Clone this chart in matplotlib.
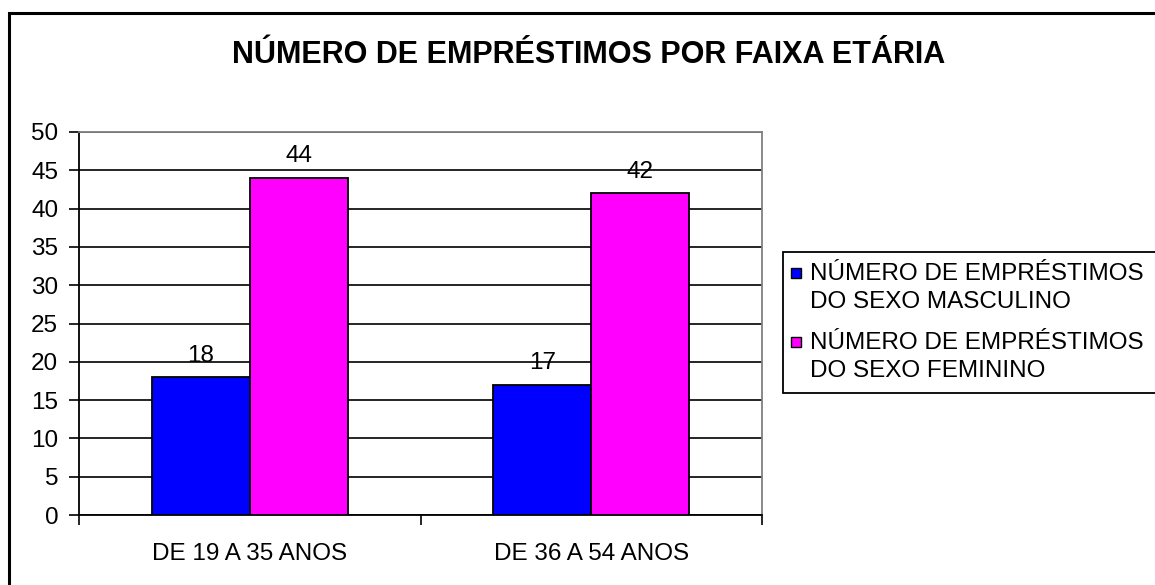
import matplotlib
matplotlib.use("Agg")
import matplotlib.pyplot as plt
from matplotlib.patches import Rectangle
import numpy as np

plt.rcParams['font.family'] = ['Liberation Sans', 'DejaVu Sans']

categories = ["DE 19 A 35 ANOS", "DE 36 A 54 ANOS"]
masculino = [18, 17]
feminino = [44, 42]
series_labels = ["NÚMERO DE EMPRÉSTIMOS\nDO SEXO MASCULINO",
                 "NÚMERO DE EMPRÉSTIMOS\nDO SEXO FEMININO"]
title = "NÚMERO DE EMPRÉSTIMOS POR FAIXA ETÁRIA"
colors = ["#0000FF", "#FF00FF"]

W, H = 1155, 585
FS = 17.5
fig = plt.figure(figsize=(W / 100, H / 100), dpi=100)
fig.patch.set_facecolor("white")

# outer frame (extends beyond the image on right/bottom)
fig.patches.append(Rectangle((9 / W, -0.1), 1.2, 1 - 13 / H + 0.1,
                             transform=fig.transFigure, fill=False,
                             edgecolor="black", linewidth=2.2, zorder=0))

ax = fig.add_axes([79 / W, 1 - 515 / H, (762 - 79) / W, (515 - 132) / H])
x = np.arange(len(categories))
bw = 0.287
b1 = ax.bar(x - bw / 2, masculino, bw, color=colors[0], edgecolor="black", linewidth=1.3, zorder=3)
b2 = ax.bar(x + bw / 2, feminino, bw, color=colors[1], edgecolor="black", linewidth=1.3, zorder=3)

for bars, vals in ((b1, masculino), (b2, feminino)):
    for r, v in zip(bars, vals):
        ax.annotate(str(v), (r.get_x() + r.get_width() / 2, v), xytext=(0, 15.5),
                    textcoords="offset points", ha="center", va="center",
                    fontsize=FS, zorder=5)

ax.set_xlim(-0.5, 1.5)
ax.set_ylim(0, 50)
ax.set_yticks(np.arange(0, 51, 5))
ax.yaxis.grid(True, color="black", linewidth=1.2, zorder=1)
ax.set_axisbelow(True)
ax.set_xticks([-0.5, 0.5, 1.5])
ax.set_xticklabels([])
ax.set_xticks(x, minor=True)
ax.set_xticklabels(categories, minor=True)
ax.tick_params(axis="x", which="minor", length=0, pad=20, labelsize=FS)
ax.tick_params(axis="x", which="major", length=7, width=1.2, direction="out")
ax.tick_params(axis="y", length=7, width=1.2, direction="out", labelsize=FS, pad=8)
for s in ("left", "bottom"):
    ax.spines[s].set_color("black")
    ax.spines[s].set_linewidth(1.3)
for s in ("top", "right"):
    ax.spines[s].set_color("#808080")
    ax.spines[s].set_linewidth(1.3)

fig.text(589 / W, 1 - 55 / H, title, ha="center", va="center",
         fontsize=22, fontweight="bold")

# legend drawn manually
fig.patches.append(Rectangle((783 / W, 1 - 393 / H), 0.5, (393 - 252) / H,
                             transform=fig.transFigure, fill=True, facecolor="white",
                             edgecolor="black", linewidth=1.3, zorder=4))
for i, (lab, c) in enumerate(zip(series_labels, colors)):
    ytop = 268 + i * 69
    fig.patches.append(Rectangle((791 / W, 1 - (ytop + 10) / H), 10 / W, 10 / H,
                                 transform=fig.transFigure, facecolor=c,
                                 edgecolor="black", linewidth=1.0, zorder=5))
    fig.text(810 / W, 1 - (ytop + 20) / H, lab, ha="left", va="center",
             fontsize=FS, linespacing=1.35, zorder=6)

fig.savefig("out.png", dpi=100)
